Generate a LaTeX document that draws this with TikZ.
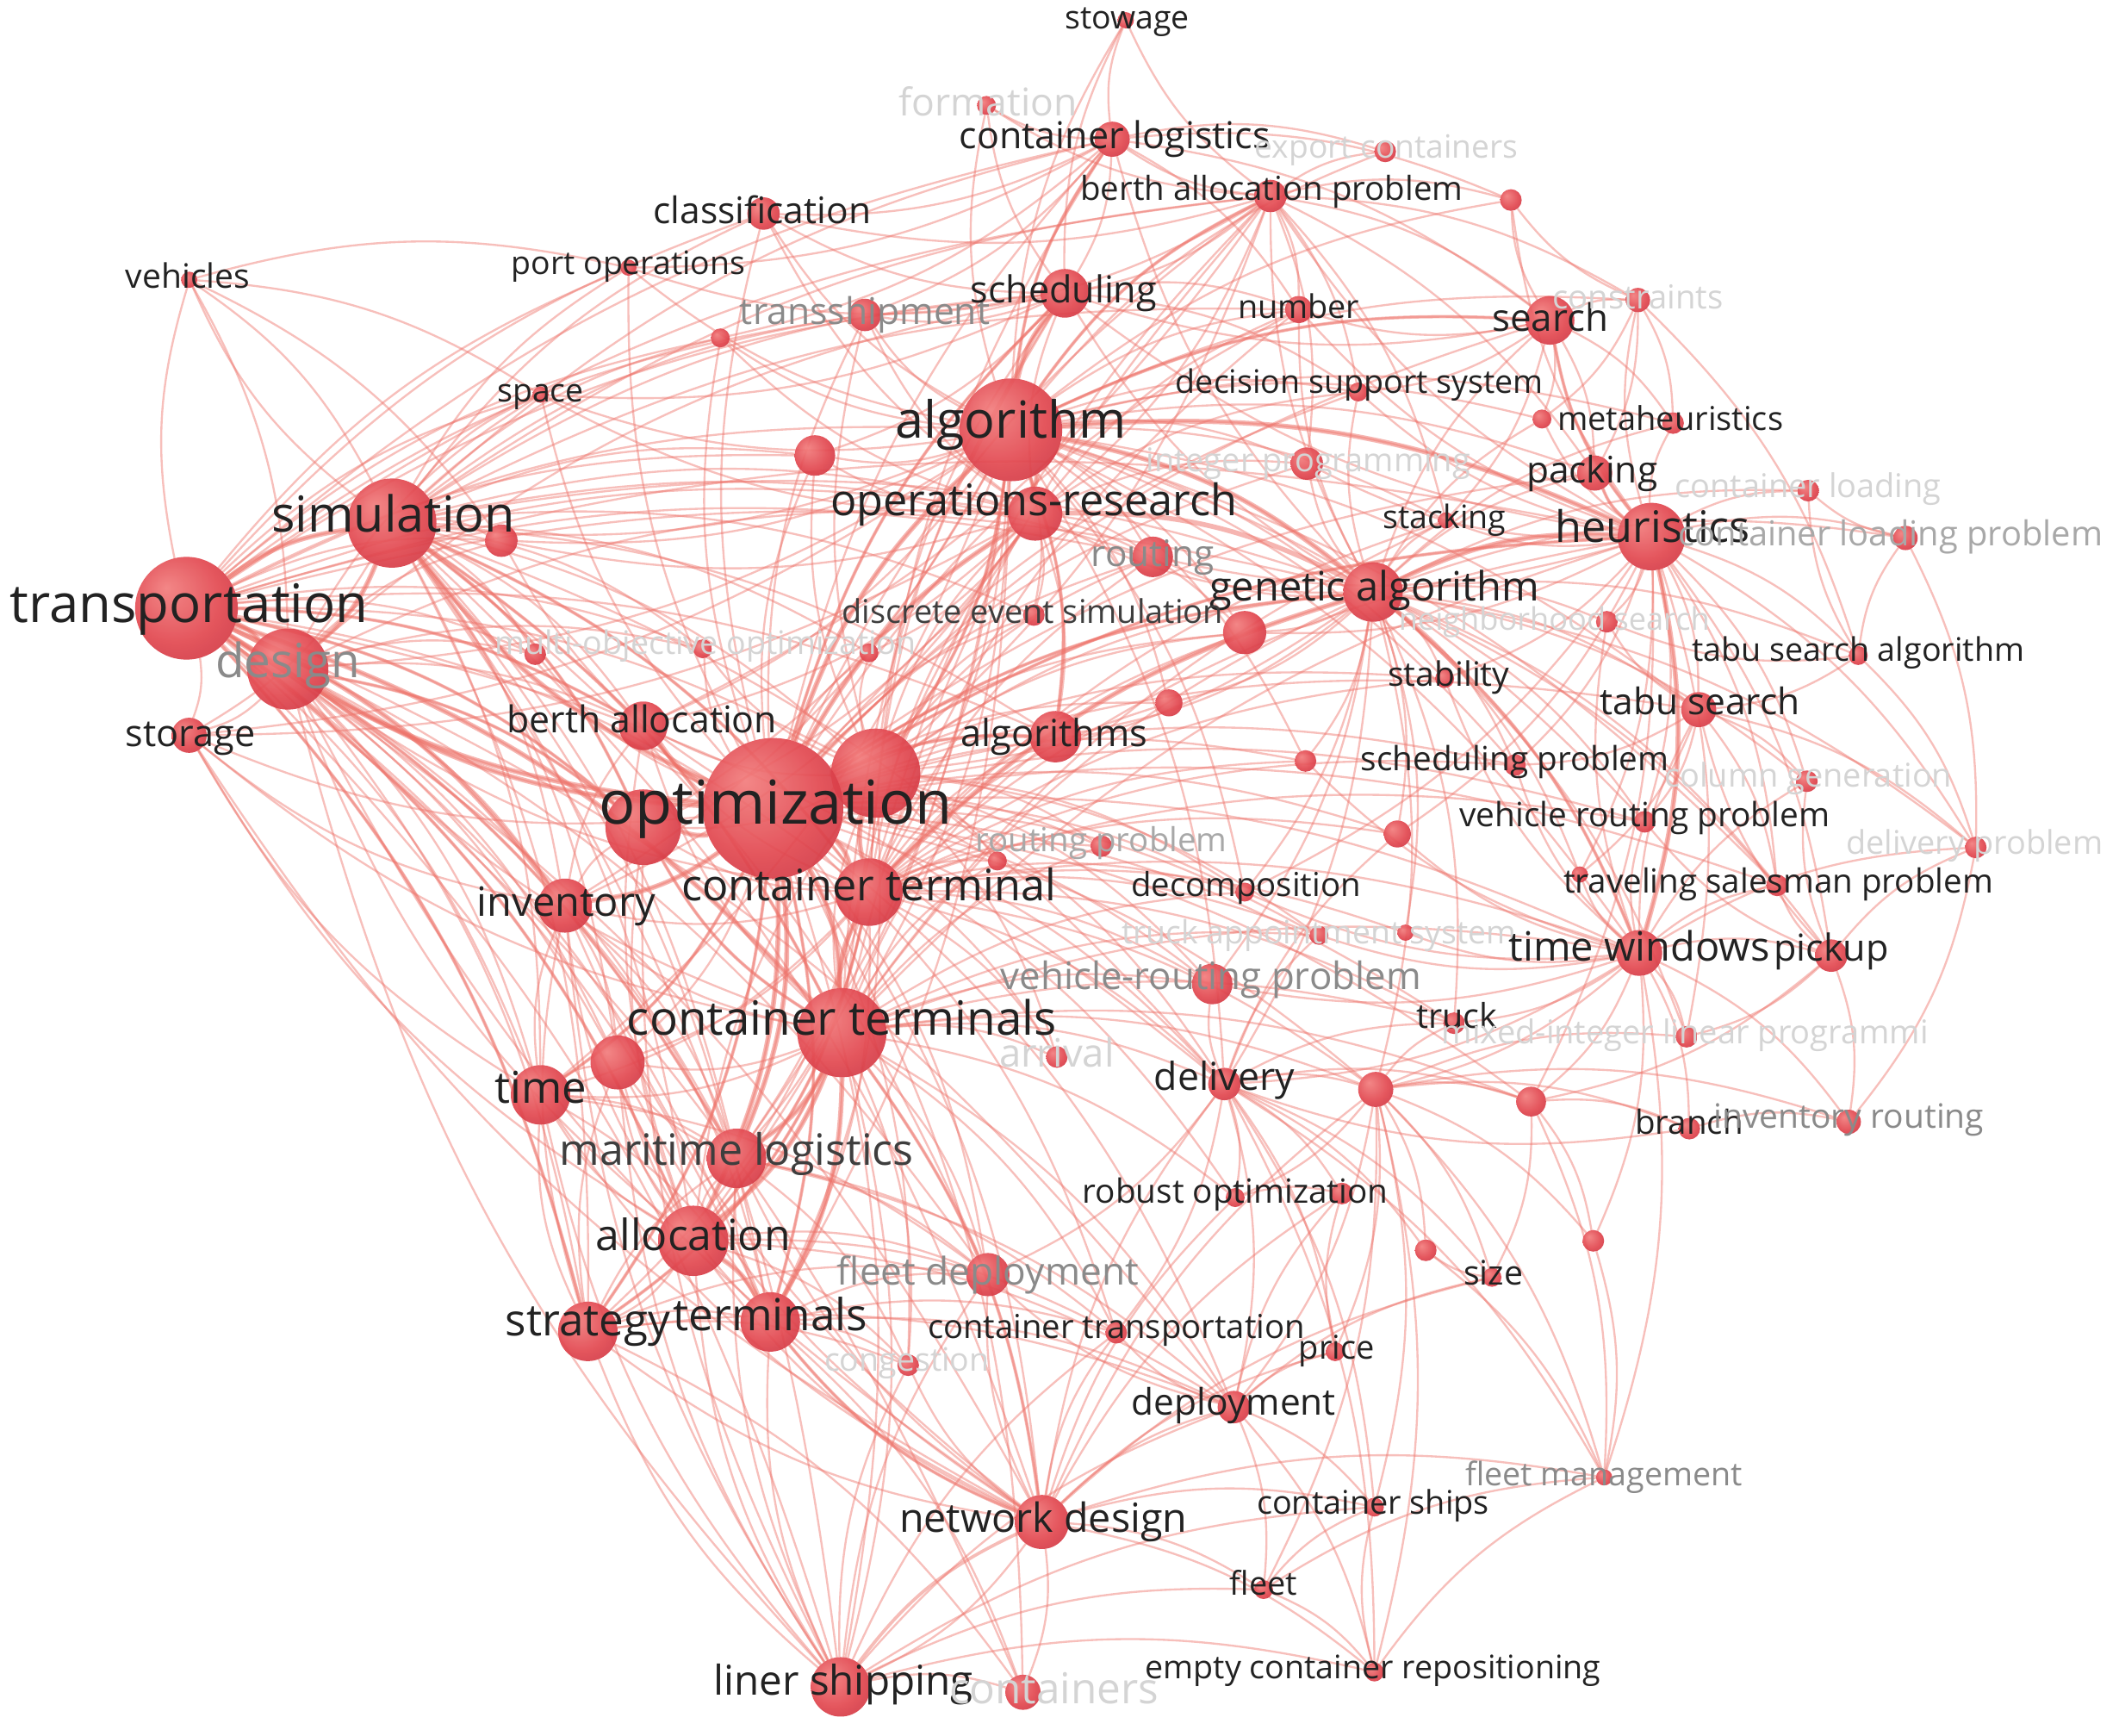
\documentclass[tikz,border=0pt]{standalone}
\usepackage{graphicx}
\usepackage{fontspec}
\setmainfont{Open Sans}
\pgfdeclarelayer{edges}
\pgfdeclarelayer{labels}
\pgfsetlayers{edges,main,labels}
\definecolor{edgec}{RGB}{238,115,106}
\definecolor{nl}{RGB}{242,125,125}
\definecolor{nm}{RGB}{226,72,80}
\definecolor{nd}{RGB}{198,44,58}
\definecolor{dk}{RGB}{34,34,34}
\definecolor{dkb}{RGB}{62,62,62}
\definecolor{gr}{RGB}{138,138,138}
\definecolor{grb}{RGB}{168,168,168}
\definecolor{fa}{RGB}{212,212,212}
\pgfdeclareradialshading{kwball}{\pgfpoint{-10bp}{10bp}}{color(0bp)=(nl); color(22bp)=(nm); color(42bp)=(nd); color(50bp)=(nd)}
\tikzset{
  kwnode/.style={circle, inner sep=0pt, outer sep=0pt, shading=kwball, fill opacity=0.92, draw=none},
  lab/.style={inner sep=0pt, outer sep=0pt},
  e1/.style={draw=edgec, line width=1.5pt, draw opacity=0.45},
  e2/.style={draw=edgec, line width=2.4pt, draw opacity=0.48},
  e3/.style={draw=edgec, line width=3.6pt, draw opacity=0.52},
}
\newcommand{\kw}[9]{%
  \node[kwnode, minimum size=2*#4pt] (#1) at (#2,#3) {};
  \begin{pgfonlayer}{labels}
  \node[lab, text=#8] (t#1) at (#5,#6) {\resizebox{#7pt}{!}{\vphantom{hg}#9}};
  \end{pgfonlayer}}
\newcommand{\unk}[4]{\node[kwnode, minimum size=2*#4pt] (#1) at (#2,#3) {};}
\newcommand{\hub}[2]{\foreach \b in {#2} \draw[e1] (#1) to[bend left=14] (\b);}
\begin{document}
\begin{tikzpicture}[x=1pt,y=-1pt]
\useasboundingbox (0,0) rectangle (1568,1284);
% ---------------- nodes ----------------
\kw{stow}{833}{15}{6}{834}{15}{92}{dk}{stowage}
\kw{form}{730}{78}{7}{731}{78}{132}{fa}{formation}
\kw{clog}{823}{103}{13}{825}{103}{230}{dk}{container logistics}
\kw{expc}{1025}{112}{8}{1026}{111}{195}{fa}{export containers}
\kw{bap}{940}{145}{12}{941}{142}{283}{dk}{berth allocation problem}
\unk{u3}{1118}{148}{8}
\kw{clas}{565}{158}{12}{564}{158}{161}{dk}{classification}
\kw{veh}{140}{207}{6}{139}{207}{92}{dk}{vehicles}
\kw{port}{465}{198}{6}{465}{197}{173}{dk}{port operations}
\kw{tship}{640}{233}{12}{640}{233}{185}{gr}{transshipment}
\kw{sched}{788}{217}{18}{787}{217}{138}{dk}{scheduling}
\kw{num}{961}{229}{10}{961}{229}{90}{dk}{number}
\kw{srch}{1147}{237}{18}{1147}{238}{86}{dk}{search}
\kw{cons}{1212}{222}{9}{1212}{222}{126}{fa}{constraints}
\unk{u4}{533}{250}{7}
\kw{space}{400}{292}{6}{400}{291}{64}{dk}{space}
\kw{dss}{1005}{290}{7}{1006}{285}{272}{dk}{decision support system}
\kw{meta}{1238}{313}{8}{1236}{312}{167}{dk}{metaheuristics}
\unk{u5}{1141}{310}{7}
\kw{alg}{748}{318}{38}{748}{314}{171}{dk}{algorithm}
\unk{u6}{603}{337}{15}
\kw{intp}{967}{343}{12}{968}{343}{240}{fa}{integer programming}
\kw{pack}{1180}{350}{13}{1178}{350}{97}{dk}{packing}
\kw{cload}{1338}{363}{8}{1338}{362}{197}{fa}{container loading}
\kw{sim}{290}{387}{33}{291}{384}{180}{dk}{simulation}
\unk{u7}{371}{400}{12}
\kw{or}{766}{380}{20}{765}{373}{301}{dk}{operations-research}
\kw{stack}{1070}{385}{6}{1069}{385}{91}{dk}{stacking}
\kw{heur}{1222}{397}{25}{1223}{393}{144}{dk}{heuristics}
\kw{clp}{1410}{398}{9}{1399}{397}{314}{grb}{container loading problem}
\kw{rout}{853}{412}{15}{853}{412}{91}{gr}{routing}
\kw{ga}{1016}{438}{22}{1017}{437}{244}{dk}{genetic algorithm}
\unk{u8}{921}{468}{16}
\kw{dsim}{765}{455}{8}{764}{455}{282}{dkb}{discrete event simulation}
\kw{nsrch}{1189}{460}{8}{1150}{460}{230}{fa}{neighborhood search}
\kw{trans}{138}{450}{38}{140}{450}{265}{dk}{transportation}
\kw{des}{213}{495}{30}{213}{492}{107}{gr}{design}
\kw{moo}{520}{480}{7}{522}{478}{312}{fa}{multi-objective optimization}
\unk{u9}{396}{484}{8}
\unk{u10}{643}{483}{7}
\kw{tsa}{1375}{485}{7}{1375}{483}{246}{dk}{tabu search algorithm}
\kw{stab}{1069}{502}{7}{1072}{501}{90}{dk}{stability}
\unk{u11}{865}{520}{10}
\kw{tabu}{1257}{525}{13}{1258}{522}{148}{dk}{tabu search}
\kw{stor}{140}{544}{13}{141}{545}{96}{dk}{storage}
\kw{ba}{476}{537}{18}{475}{535}{200}{dk}{berth allocation}
\kw{algs}{781}{545}{19}{780}{545}{138}{dk}{algorithms}
\unk{u1}{648}{572}{33}
\unk{u12}{966}{563}{8}
\kw{sp}{1121}{566}{8}{1121}{564}{228}{dk}{scheduling problem}
\kw{colg}{1337}{578}{8}{1338}{576}{213}{fa}{column generation}
\unk{u2}{476}{612}{28}
\kw{vrp}{1217}{608}{8}{1217}{605}{274}{dk}{vehicle routing problem}
\unk{u13}{1034}{617}{10}
\kw{rp}{815}{626}{8}{815}{624}{186}{grb}{routing problem}
\unk{u14}{738}{637}{7}
\kw{dp}{1462}{627}{8}{1461}{626}{190}{fa}{delivery problem}
\kw{opt}{572}{598}{52}{574}{598}{262}{dk}{optimization}
\kw{ct}{643}{660}{25}{643}{658}{277}{dk}{container terminal}
\kw{dec}{921}{660}{7}{922}{657}{170}{dk}{decomposition}
\kw{tsp}{1315}{655}{8}{1316}{654}{318}{dk}{traveling salesman problem}
\unk{u15}{1169}{647}{6}
\kw{inv}{418}{670}{20}{419}{670}{132}{dk}{inventory}
\kw{tas}{976}{692}{7}{976}{692}{292}{fa}{truck appointment system}
\unk{u16}{1040}{690}{6}
\kw{tw}{1213}{705}{17}{1213}{703}{193}{dk}{time windows}
\kw{pick}{1355}{707}{12}{1355}{704}{85}{dk}{pickup}
\kw{vrp2}{897}{728}{15}{896}{725}{311}{gr}{vehicle-routing problem}
\kw{cts}{623}{764}{33}{623}{757}{318}{dk}{container terminals}
\kw{truck}{1076}{757}{8}{1078}{754}{60}{dk}{truck}
\kw{milp}{1248}{767}{8}{1247}{766}{360}{fa}{mixed-integer linear programmi}
\kw{time}{400}{810}{22}{400}{808}{68}{dk}{time}
\unk{u17}{457}{786}{20}
\kw{arr}{782}{782}{8}{782}{782}{85}{fa}{arrival}
\kw{deliv}{906}{802}{12}{906}{799}{104}{dk}{delivery}
\unk{u18}{1018}{806}{13}
\unk{u19}{1133}{815}{11}
\kw{branch}{1250}{835}{8}{1250}{833}{80}{dk}{branch}
\kw{invr}{1368}{830}{9}{1368}{828}{200}{gr}{inventory routing}
\kw{ml}{545}{857}{22}{545}{854}{262}{dkb}{maritime logistics}
\kw{robo}{914}{886}{7}{914}{884}{226}{dk}{robust optimization}
\unk{u20}{993}{883}{8}
\kw{alloc}{513}{918}{26}{513}{917}{144}{dk}{allocation}
\kw{fd}{731}{943}{16}{731}{943}{223}{gr}{fleet deployment}
\unk{u21}{1055}{925}{8}
\unk{u22}{1179}{918}{8}
\kw{size}{1104}{945}{7}{1105}{944}{44}{dk}{size}
\kw{strat}{435}{985}{22}{435}{980}{122}{dk}{strategy}
\kw{term}{570}{978}{22}{570}{976}{144}{dk}{terminals}
\kw{ctr}{826}{986}{8}{826}{984}{279}{dk}{container transportation}
\kw{price}{988}{1000}{7}{989}{999}{56}{dk}{price}
\kw{cong}{672}{1010}{8}{671}{1008}{122}{fa}{congestion}
\kw{dep}{913}{1041}{12}{913}{1040}{151}{dk}{deployment}
\kw{fm}{1187}{1093}{6}{1187}{1093}{205}{gr}{fleet management}
\kw{cship}{1017}{1115}{7}{1016}{1114}{172}{dk}{container ships}
\kw{nd}{771}{1126}{20}{772}{1126}{213}{dk}{network design}
\kw{fleet}{935}{1176}{7}{935}{1174}{50}{dk}{fleet}
\kw{ecr}{1017}{1237}{7}{1016}{1236}{337}{dk}{empty container repositioning}
\kw{ls}{622}{1248}{22}{624}{1246}{192}{dk}{liner shipping}
\kw{cont}{757}{1252}{13}{780}{1252}{155}{fa}{containers}
% ---------------- edges ----------------
\begin{pgfonlayer}{edges}
\fill[white] (0,0) rectangle (1568,1284);
\hub{opt}{trans,sim,des,stor,alg,or,ba,algs,u1,u2,ct,cts,inv,time,u17,ml,alloc,strat,term,fd,nd,ls,ga,heur,sched,clas,tship,port,space,u6,u7,moo,dsim,rout,rp,dec,vrp2,deliv,tw,tabu,srch,bap,clog,num,intp,pack,stab,u11,u12,sp,vrp,u13,tas,truck,u18,arr,cong,ctr,dep,robo,u9,u10,u4,dss,u8,u14,tsp,u19,cont}
\hub{trans}{sim,des,stor,alg,or,ba,u2,ct,cts,inv,time,u17,ml,alloc,strat,term,nd,ls,veh,port,clas,space,u7,u6,sched,ga,heur,u1,u9,moo,clog,tship,fd,dep,cont,deliv,algs,u4,rout,bap}
\hub{alg}{sim,or,ga,heur,sched,bap,clog,num,srch,dss,intp,pack,rout,u8,u1,ct,cts,algs,ba,u2,tship,clas,tabu,meta,stack,u6,stow,form,u5,cons,vrp,tw,deliv,dsim,u11,u12,inv,alloc,des,time,ml,term,port,u4,space,expc,u3,sp,stab,dec,tsp,stor,u7}
\hub{sim}{des,stor,or,u1,u2,ct,cts,inv,time,u17,ml,alloc,strat,term,ba,space,clas,port,tship,u7,u6,moo,u9,u10,dsim,veh,nd,ls,ga,sched,algs,fd,u4,deliv,rout,bap,clog,num}
\hub{cts}{ct,ml,alloc,term,strat,time,u17,inv,u2,u1,ba,algs,or,ga,heur,tw,deliv,vrp2,dec,rp,u14,arr,fd,cong,nd,ls,ctr,dep,truck,tas,u18,sched,bap,stack,des,stor,robo,u19}
\hub{ct}{ba,u1,u2,algs,or,ga,heur,tw,u8,dec,rp,u14,rout,tas,vrp2,alloc,term,ml,inv,time,sched,bap,clog,num,stack,stab,u11,u12,sp,vrp,u13,deliv,truck,u18,des,u17,strat,arr,u16}
\hub{ga}{heur,srch,pack,tabu,tsa,stab,sp,vrp,tw,pick,tsp,u8,rout,intp,num,dss,meta,cload,clp,nsrch,u5,stack,u11,u12,u13,dec,colg,dp,bap,sched,clog,u15,u16,truck,u18,milp,algs,or,u1,vrp2,deliv}
\hub{heur}{srch,pack,meta,cload,clp,tabu,tsa,nsrch,colg,vrp,tsp,tw,pick,dp,cons,u3,u5,stack,dss,num,sp,u15,bap,intp,stab,u13,milp,u19,sched,rout,u8,dec}
\hub{tw}{pick,tsp,vrp,milp,truck,u18,u19,branch,invr,dp,colg,tabu,sp,u15,u16,tas,deliv,vrp2,u13,dec,stab,nsrch,u12,u22,fm}
\hub{nd}{ls,cont,fleet,ecr,cship,dep,ctr,fm,fd,cong,term,alloc,strat,ml,price,u20,robo,u18,deliv,size,time,inv,u17,des,stor}
\hub{ls}{cont,term,strat,alloc,ml,fd,time,inv,dep,fleet,ecr,cship,ctr,cong,u17,des,u2}
\hub{alloc}{term,strat,ml,time,u17,inv,fd,cong,ctr,dep,u2,ba,des,stor,u1}
\hub{bap}{clog,sched,num,expc,u3,srch,dss,stack,pack,form,intp,stow,tship,clas,or,u1,ba,cons}
\hub{clog}{form,stow,expc,sched,clas,port,num,srch,u3,tship,u4}
\hub{des}{stor,u2,inv,time,strat,term,ml,ba,moo,u9,u7,u17,space,or,sched}
\hub{u1}{or,algs,ba,ga,rout,u8,dsim,u10,moo,dec,rp,tas,vrp2,arr,deliv,u2,sched,tship,u6,u14,ml,term}
\hub{or}{algs,ba,u2,dsim,rout,u8,sched,tship,clas,u6,u10,num,dss,intp,inv,stor,space,u4,u7}
\hub{deliv}{truck,u18,u19,size,price,robo,u20,dep,cship,fm,ecr,tas,u13,vrp2,u21,ctr,fd}
\hub{u18}{size,fm,ecr,cship,u21,u22,price,milp,branch,invr,truck,dep,robo,fleet,u19}
\hub{pick}{invr,dp,tsp,colg,vrp,u19,milp,tabu}
\hub{tsa}{clp,cload,tabu,nsrch,dp}
\hub{tabu}{colg,dp,tsp,vrp,sp,nsrch,u15}
\hub{srch}{cons,meta,u5,pack,dss,num,u3,sched,stack}
\hub{cons}{meta,pack,u3,u5,tsa}
\hub{strat}{term,time,ml,u17,inv,fd,cont,dep,cong}
\hub{veh}{space,sim,u7,port,des}
\hub{time}{u17,inv,ml,term,stor,fd}
\hub{inv}{u17,ml,stor,ba,u2,term}
\hub{term}{ml,fd,cong,ctr,dep,u17,cont}
\hub{ml}{fd,cong,ctr,u17,dep}
\hub{dep}{cship,fleet,ecr,price,ctr,fd,u20,size}
\hub{fleet}{cship,ecr,fm}
\hub{sched}{num,tship,clas,form,stow,dss,u6,port,space}
\hub{clp}{dp,cload}
\hub{dp}{invr}
\hub{u19}{u22,branch,size,fm}
\hub{ecr}{fm,cship}
\hub{price}{u20}
\hub{size}{u21}
\hub{u22}{fm}
\hub{robo}{u20}
\hub{u21}{fm}
\hub{branch}{deliv,invr}
% medium edges
\foreach \a/\b in {opt/strat,opt/time,opt/term,alg/bap,alg/clog,cts/strat,trans/alloc,trans/strat,sim/cts,sim/ct,opt/ga,opt/heur,ls/nd,nd/term,ct/alloc,alg/u1,cts/u2,trans/ml,trans/ba,opt/algs,alg/algs,ga/tw,heur/pack,heur/srch,alg/srch,cts/nd,trans/u2,sim/u2,des/u2,opt/sched}
  \draw[e2] (\a) to[bend left=14] (\b);
% thick hub edges
\foreach \a/\b in {opt/trans,opt/alg,opt/cts,opt/ct,opt/sim,opt/des,opt/u1,opt/u2,opt/alloc,opt/ml,opt/ba,opt/inv,opt/or,trans/sim,trans/des,trans/cts,alg/or,alg/ga,cts/ct,cts/alloc,cts/ml,cts/term,alg/sched,alg/heur,ga/heur,sim/des,trans/inv,alloc/term,ct/u1,ct/ga,or/ga,heur/tw}
  \draw[e3] (\a) to[bend left=14] (\b);
\end{pgfonlayer}
\end{tikzpicture}
\end{document}
